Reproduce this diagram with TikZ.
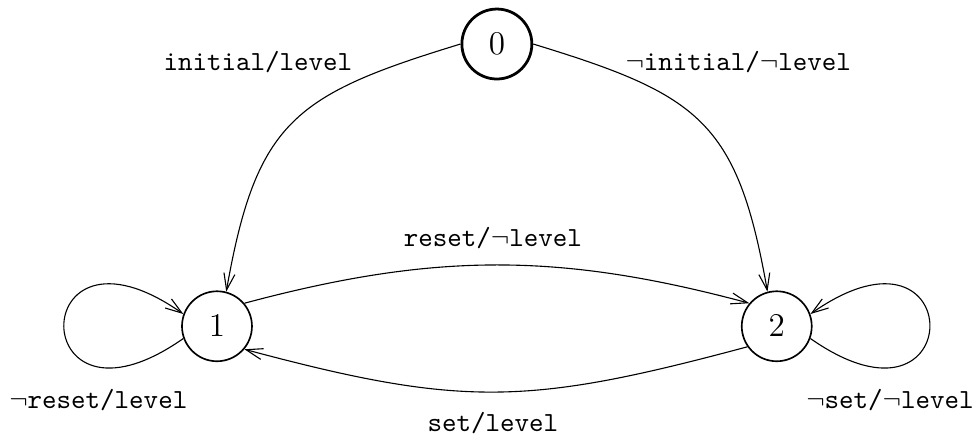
\documentclass[tikz,border=0pt]{standalone}
\usepackage{amsmath}
\usepackage{amssymb}
\usepackage{tikz}
\usetikzlibrary{arrows.meta}
\usetikzlibrary{positioning,calc}

\begin{document}
\begin{tikzpicture}[>={Straight Barb[length=6pt,width=4pt]},
		st/.style={circle, draw, semithick, minimum size=0.89cm, inner sep=0pt, font=\large},
		lbl/.style={font=\ttfamily}]
		\useasboundingbox (0,0) rectangle (12.44,-5.52);
		% states
		\node[st, line width=1pt] (q0) at (6.32,-0.56) {$ 0 $};
		\node[st] (q1) at (2.76,-4.15) {$ 1 $};
		\node[st] (q2) at (9.88,-4.15) {$ 2 $};
		% transitions
		\draw[->] (q0.180) to[out=197, in=80, looseness=1.3] (q1.75);
		\draw[->] (q0.0) to[out=-17, in=100, looseness=1.3] (q2.105);
		\draw[->] (q1.40) to[out=15, in=165] (q2.140);
		\draw[->] (q2.215) to[out=195, in=-15, looseness=1.15] (q1.-40);
		\draw[->] (q1.200) .. controls +(215:2.47) and +(145:2.47) .. (q1.160);
		\draw[->] (q2.-20) .. controls +(-35:2.47) and +(35:2.47) .. (q2.20);
		% labels
		\node[lbl] (l01) at (3.28,-0.79) {initial/level};
		\node[lbl] (l02) at (9.39,-0.79) {$ \neg $initial/$ \neg $level};
		\node[lbl] (l12) at (6.27,-3.03) {reset/$ \neg $level};
		\node[lbl] (l21) at (6.27,-5.38) {set/level};
		\node[lbl] (l11) at (1.25,-5.09) {$ \neg $reset/level};
		\node[lbl] (l22) at (11.32,-5.09) {$ \neg $set/$ \neg $level};
\end{tikzpicture}
\end{document}
